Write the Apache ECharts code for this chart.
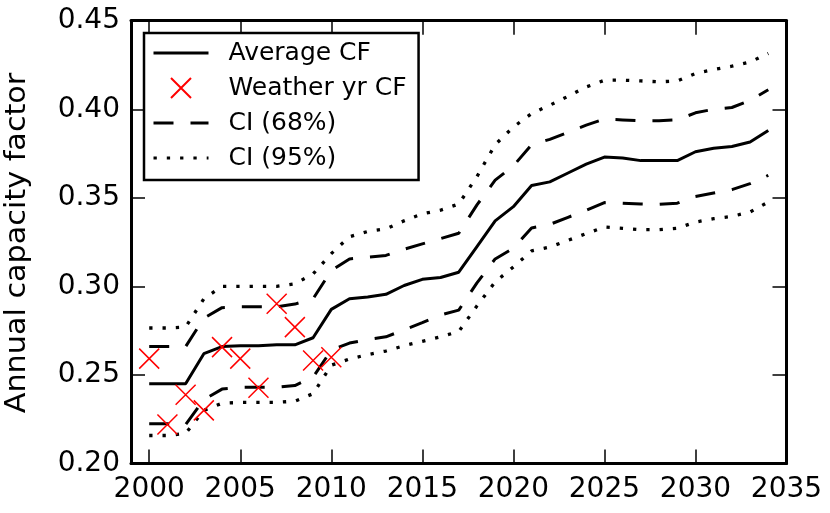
<!DOCTYPE html>
<html>
<head>
<meta charset="utf-8">
<script src="https://cdn.jsdelivr.net/npm/echarts@6/dist/echarts.min.js"></script>
<style>
  html, body { margin: 0; padding: 0; background: #fff; }
  #chart { width: 830px; height: 513px; }
</style>
</head>
<body>
<div id="chart"></div>
<script>
const years = [2000, 2001, 2002, 2003, 2004, 2005, 2006, 2007, 2008, 2009,
               2010, 2011, 2012, 2013, 2014, 2015, 2016, 2017, 2018, 2019,
               2020, 2021, 2022, 2023, 2024, 2025, 2026, 2027, 2028, 2029,
               2030, 2031, 2032, 2033, 2034];

const averageCF = [0.245, 0.245, 0.245, 0.262, 0.266, 0.2665, 0.2665, 0.267, 0.267, 0.271,
                   0.287, 0.293, 0.294, 0.2955, 0.3005, 0.304, 0.305, 0.308, 0.3225, 0.337,
                   0.345, 0.357, 0.359, 0.364, 0.369, 0.373, 0.3725, 0.371, 0.371, 0.371,
                   0.376, 0.378, 0.379, 0.3815, 0.388];

const ci68Upper = [0.266, 0.266, 0.266, 0.282, 0.288, 0.2885, 0.2885, 0.2885, 0.290, 0.293,
                   0.309, 0.3155, 0.3165, 0.3175, 0.321, 0.324, 0.327, 0.330, 0.346, 0.360,
                   0.368, 0.380, 0.383, 0.387, 0.391, 0.3945, 0.394, 0.3935, 0.3935, 0.394,
                   0.398, 0.400, 0.401, 0.405, 0.411];

const ci68Lower = [0.2224, 0.2224, 0.222, 0.236, 0.242, 0.243, 0.243, 0.243, 0.244, 0.2488,
                   0.264, 0.268, 0.270, 0.2715, 0.2755, 0.2795, 0.2838, 0.2866, 0.302, 0.3155,
                   0.3215, 0.333, 0.335, 0.339, 0.343, 0.3473, 0.347, 0.3465, 0.3463, 0.347,
                   0.3508, 0.3527, 0.3546, 0.358, 0.3627];

const ci95Upper = [0.2765, 0.2765, 0.277, 0.293, 0.300, 0.300, 0.300, 0.300, 0.3015, 0.307,
                   0.3185, 0.328, 0.331, 0.3325, 0.337, 0.341, 0.343, 0.3465, 0.362, 0.380,
                   0.390, 0.3976, 0.4023, 0.4073, 0.4126, 0.4164, 0.4164, 0.416, 0.4155, 0.416,
                   0.4202, 0.4224, 0.4243, 0.4267, 0.4315];

const ci95Lower = [0.2158, 0.2158, 0.217, 0.230, 0.234, 0.2345, 0.2345, 0.2345, 0.2352, 0.2394,
                   0.2555, 0.259, 0.2615, 0.2635, 0.2665, 0.269, 0.2715, 0.2745, 0.289, 0.3025,
                   0.311, 0.320, 0.3222, 0.326, 0.3298, 0.3335, 0.3328, 0.332, 0.332, 0.3328,
                   0.3363, 0.3382, 0.3395, 0.342, 0.3476];

const weatherYears = [2000, 2001, 2002, 2003, 2004, 2005, 2006, 2007, 2008, 2009, 2010];
const weatherCF = [0.2592, 0.222, 0.2388, 0.230, 0.2657, 0.2592, 0.2428, 0.2902, 0.277, 0.2582, 0.260];

const xTicks = [2000, 2005, 2010, 2015, 2020, 2025, 2030, 2035];

const FONT = '"DejaVu Sans", "Liberation Sans", sans-serif';

function pairs(xs, ys) { return xs.map((x, i) => [x, ys[i]]); }

const chart = echarts.init(document.getElementById('chart'), null, { renderer: 'canvas' });

const axisLine = { show: true, lineStyle: { color: '#000', width: 3 } };
const axisTick = { show: true, inside: true, length: 14, lineStyle: { color: '#000', width: 1.5 } };

const lineBase = { type: 'line', symbol: 'none', showSymbol: false, smooth: false, silent: true, animation: false };
const hiddenSymbol = { color: '#000', opacity: 0 };

const option = {
  animation: false,
  backgroundColor: '#fff',
  textStyle: { fontFamily: FONT, color: '#000' },
  grid: { left: 131, right: 43.5, top: 20.7, bottom: 49.5, containLabel: false },
  xAxis: [
    {
      type: 'value', min: 1999, max: 2035, position: 'bottom',
      axisLine: axisLine,
      axisTick: Object.assign({ customValues: xTicks }, axisTick),
      axisLabel: { show: true, customValues: xTicks, fontSize: 28, fontFamily: FONT, color: '#000', margin: 12,
                   formatter: v => String(v) },
      splitLine: { show: false }
    },
    {
      type: 'value', min: 1999, max: 2035, position: 'top',
      axisLine: axisLine,
      axisTick: Object.assign({ customValues: xTicks }, axisTick),
      axisLabel: { show: false },
      splitLine: { show: false }
    }
  ],
  yAxis: [
    {
      type: 'value', min: 0.2, max: 0.45, interval: 0.05, position: 'left',
      axisLine: axisLine, axisTick: axisTick,
      axisLabel: { fontSize: 28, fontFamily: FONT, color: '#000', margin: 11, formatter: v => v.toFixed(2) },
      splitLine: { show: false }
    },
    {
      type: 'value', min: 0.2, max: 0.45, interval: 0.05, position: 'right',
      axisLine: axisLine, axisTick: axisTick,
      axisLabel: { show: false },
      splitLine: { show: false }
    }
  ],
  legend: {
    show: true,
    orient: 'vertical',
    left: 144, top: 33,
    data: [
      { name: 'Average CF', itemStyle: { opacity: 0 } },
      { name: 'Weather yr CF' },
      { name: 'CI (68%)', itemStyle: { opacity: 0 } },
      { name: 'CI (95%)', itemStyle: { opacity: 0 } }
    ],
    backgroundColor: '#fff',
    borderColor: '#000', borderWidth: 2.5, borderRadius: 0,
    padding: [5, 12, 7, 8],
    itemWidth: 55, itemHeight: 20, itemGap: 5,
    selectedMode: false,
    lineStyle: { width: 3 },
    textStyle: { fontSize: 25, fontFamily: FONT, color: '#000', lineHeight: 30, padding: [0, 0, 0, 15] }
  },
  graphic: [
    {
      type: 'text', x: 18, y: 243, rotation: Math.PI / 2, scaleX: 1.08, scaleY: 1,
      silent: true,
      style: { text: 'Annual capacity factor', fontSize: 28, fontFamily: FONT, fill: '#000',
               align: 'center', verticalAlign: 'middle' }
    }
  ],
  series: [
    Object.assign({}, lineBase, {
      name: 'Average CF', data: pairs(years, averageCF),
      lineStyle: { color: '#000', width: 3, type: 'solid' }, itemStyle: hiddenSymbol, z: 5
    }),
    {
      type: 'scatter', name: 'Weather yr CF', data: pairs(weatherYears, weatherCF),
      symbol: 'path://M0,0L10,10M10,0L0,10', symbolSize: 20, silent: true, animation: false,
      itemStyle: { color: '#ff0000', borderColor: '#ff0000', borderWidth: 1.5, opacity: 1 }, z: 6
    },
    Object.assign({}, lineBase, {
      name: 'CI (68%)', data: pairs(years, ci68Upper),
      lineStyle: { color: '#000', width: 3, type: [20, 17] }, itemStyle: hiddenSymbol, z: 4
    }),
    Object.assign({}, lineBase, {
      name: 'CI (68%)', data: pairs(years, ci68Lower),
      lineStyle: { color: '#000', width: 3, type: [20, 17] }, itemStyle: hiddenSymbol, z: 4
    }),
    Object.assign({}, lineBase, {
      name: 'CI (95%)', data: pairs(years, ci95Upper),
      lineStyle: { color: '#000', width: 3.3, type: [3.3, 10] }, itemStyle: hiddenSymbol, z: 3
    }),
    Object.assign({}, lineBase, {
      name: 'CI (95%)', data: pairs(years, ci95Lower),
      lineStyle: { color: '#000', width: 3.3, type: [3.3, 10] }, itemStyle: hiddenSymbol, z: 3
    })
  ]
};

chart.setOption(option);
</script>
</body>
</html>
